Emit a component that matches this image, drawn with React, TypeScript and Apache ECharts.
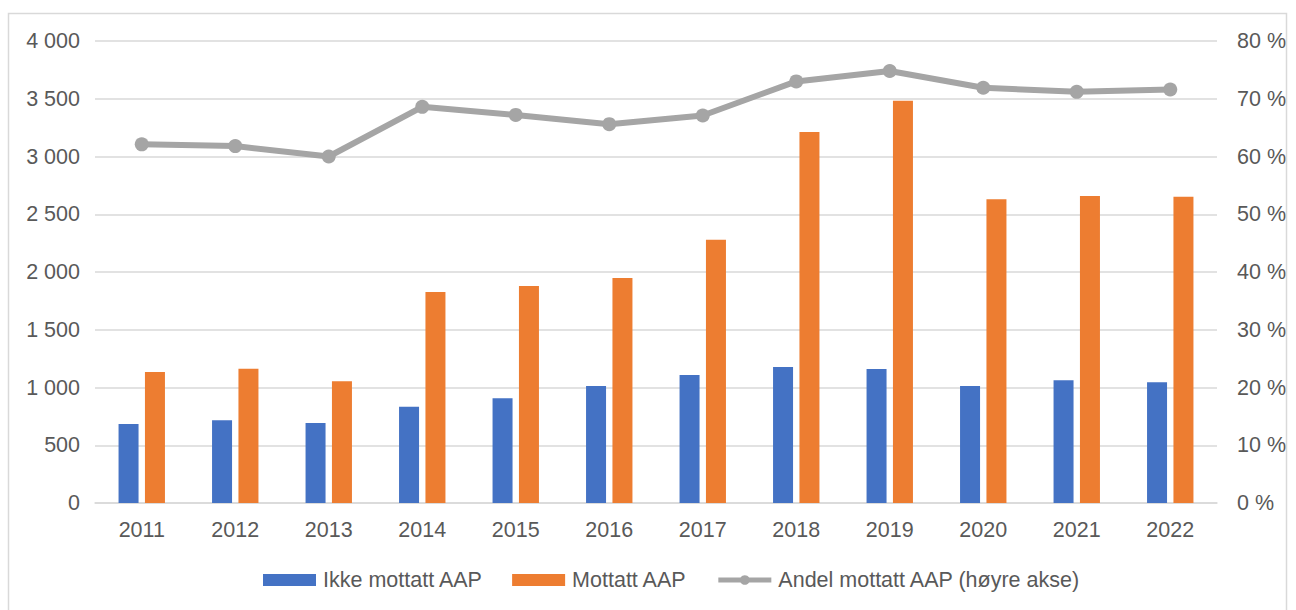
import React, { useEffect, useRef } from "react";
import * as echarts from "echarts";

const years = ["2011", "2012", "2013", "2014", "2015", "2016", "2017", "2018", "2019", "2020", "2021", "2022"];
const ikkeMottatt = [685, 716, 693, 834, 906, 1013, 1108, 1177, 1160, 1013, 1062, 1045];
const mottatt = [1135, 1163, 1054, 1826, 1879, 1948, 2280, 3212, 3483, 2629, 2658, 2652];
const andel = [62.1, 61.8, 60.0, 68.6, 67.2, 65.6, 67.1, 73.0, 74.8, 71.9, 71.2, 71.6];

const seriesNames = ["Ikke mottatt AAP", "Mottatt AAP", "Andel mottatt AAP (høyre akse)"];

const FONT = "'Liberation Sans', Arial, sans-serif";
const TEXT = "#595959";
const FS = 21.5;

export default function App() {
  const ref = useRef<HTMLDivElement>(null);
  useEffect(() => {
    if (!ref.current) return;
    const chart = echarts.init(ref.current, undefined, { renderer: "svg" });
    chart.setOption({
      animation: false,
      backgroundColor: "#ffffff",
      textStyle: { fontFamily: FONT },
      graphic: [
        {
          type: "rect",
          shape: { x: 8.5, y: 13.5, width: 1278, height: 640 },
          style: { fill: "none", stroke: "#d9d9d9", lineWidth: 1.5 },
          silent: true,
          z: -10,
        },
      ],
      grid: { left: 95, right: 79, top: 41, bottom: 107, containLabel: false },
      legend: {
        bottom: 14,
        left: 258,
        itemWidth: 53,
        itemHeight: 12,
        itemGap: 29,
        textStyle: { color: TEXT, fontSize: FS, fontFamily: FONT, padding: [0, 0, 0, 2] },
        data: [
          { name: seriesNames[0], icon: "rect" },
          { name: seriesNames[1], icon: "rect" },
          { name: seriesNames[2], lineStyle: { width: 5, color: "#A5A5A5" } },
        ],
      },
      xAxis: {
        type: "category",
        data: years,
        axisLine: { lineStyle: { color: "#d9d9d9", width: 1.5 } },
        axisTick: { show: false },
        axisLabel: { color: TEXT, fontSize: FS, margin: 16, fontFamily: FONT },
      },
      yAxis: [
        {
          type: "value",
          min: 0,
          max: 4000,
          interval: 500,
          axisLine: { show: false },
          axisTick: { show: false },
          splitLine: { lineStyle: { color: "#d9d9d9", width: 1.5 } },
          axisLabel: {
            color: TEXT,
            fontSize: FS,
            margin: 15,
            fontFamily: FONT,
            formatter: (v: number) => String(v).replace(/\B(?=(\d{3})+(?!\d))/g, " "),
          },
        },
        {
          type: "value",
          min: 0,
          max: 80,
          interval: 10,
          position: "right",
          axisLine: { show: false },
          axisTick: { show: false },
          splitLine: { show: false },
          axisLabel: {
            color: TEXT,
            fontSize: FS,
            margin: 20,
            fontFamily: FONT,
            formatter: (v: number) => v + " %",
          },
        },
      ],
      series: [
        {
          name: seriesNames[0],
          type: "bar",
          data: ikkeMottatt,
          barWidth: 20,
          barGap: "32%",
          itemStyle: { color: "#4472C4" },
        },
        {
          name: seriesNames[1],
          type: "bar",
          data: mottatt,
          barWidth: 20,
          itemStyle: { color: "#ED7D31" },
        },
        {
          name: seriesNames[2],
          type: "line",
          yAxisIndex: 1,
          data: andel,
          symbol: "circle",
          symbolSize: 14,
          lineStyle: { color: "#A5A5A5", width: 6 },
          itemStyle: { color: "#A5A5A5" },
        },
      ],
    });
    return () => chart.dispose();
  }, []);
  return (
    <div
      ref={ref}
      style={{ position: "absolute", left: 0, top: 0, width: 1296, height: 610 }}
    />
  );
}
